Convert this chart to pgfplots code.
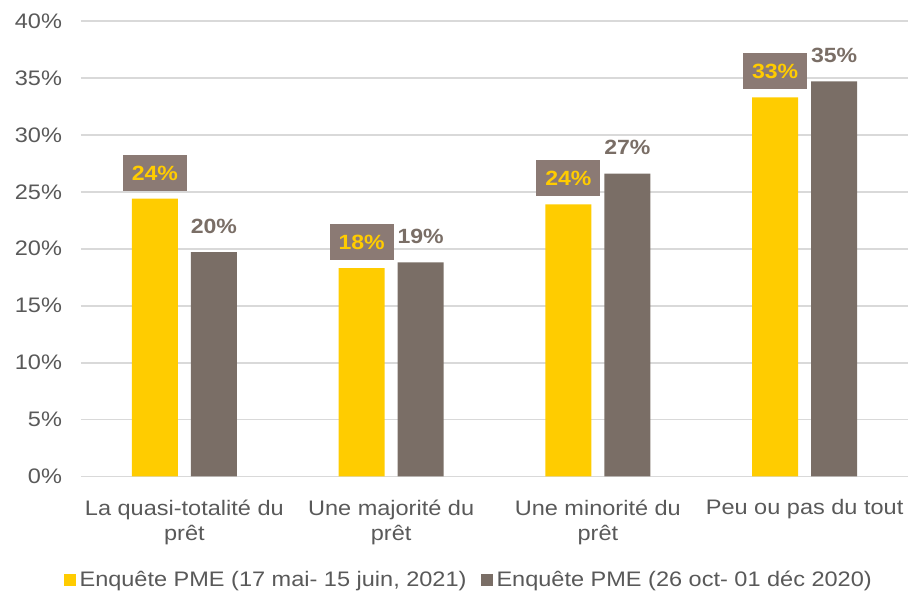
\documentclass[border=0pt]{standalone}
\usepackage{fontspec}
\setmainfont{Liberation Sans}[FakeStretch=1.12]
\usepackage{pgfplots}
\pgfplotsset{compat=1.18}
\usetikzlibrary{calc}
\definecolor{cyel}{HTML}{FFCC00}
\definecolor{cgray}{HTML}{7A6E66}
\definecolor{cbox}{HTML}{8B7A74}
\definecolor{ctxt}{HTML}{595959}
\definecolor{cgrid}{HTML}{D9D9D9}
\begin{document}
\begin{tikzpicture}
\begin{axis}[
  scale only axis,
  width=413.5pt, height=227.75pt,
  /pgf/number format/assume math mode=true,
  font=\fontsize{10.5}{12.5}\selectfont,
  ybar=6.5pt, bar width=23pt,
  xmin=-0.5, xmax=3.5,
  ymin=0, ymax=40,
  xtick={0,1,2,3},
  xticklabels={{La quasi-totalité du\\prêt},{Une majorité du\\prêt},{Une minorité du\\prêt},{Peu ou pas du tout}},
  xticklabel style={align=center, text=ctxt, yshift=-8pt},
  ytick={0,5,...,40},
  yticklabel={\pgfmathprintnumber{\tick}\%},
  yticklabel style={text=ctxt, xshift=-6pt},
  ymajorgrids, grid style={cgrid, line width=0.9pt},
  axis x line*=bottom, axis y line*=left,
  x axis line style={cgrid, line width=0.9pt},
  y axis line style={draw=none},
  major tick length=0pt,
  tick style={draw=none},
  nodes near coords={\pgfmathprintnumber[fixed,precision=0]{\pgfplotspointmeta}\%},
  nodes near coords align={vertical},
  every node near coord/.append style={font=\fontsize{10.3}{12}\selectfont\bfseries, anchor=south, yshift=3.8pt, inner xsep=4.5pt, inner ysep=5.3pt, text height=7.4pt, text depth=0pt},
  legend columns=2,
  legend style={draw=none, at={(0.47,-0.227)}, anchor=center, font=\fontsize{10.5}{12}\selectfont, text=ctxt,
    /tikz/every even column/.append style={column sep=5pt}},
  legend image code/.code={\fill[#1,draw=none] (0pt,-3pt) rectangle (6pt,3pt);},
  clip=false,
]
\addplot[fill=cyel, draw=none, every node near coord/.append style={fill=cbox, text=cyel}]
  coordinates {(0,24.4) (1,18.3) (2,23.9) (3,33.3)};
\addlegendentry{Enquête PME (17 mai- 15 juin, 2021)}
\addplot[fill=cgray, draw=none, every node near coord/.append style={text=cgray}]
  coordinates {(0,19.7) (1,18.8) (2,26.6) (3,34.7)};
\addlegendentry{Enquête PME (26 oct- 01 déc 2020)}
\end{axis}
\path ($(current axis.south west)+(-40.5pt,-59.75pt)$) rectangle ($(current axis.north east)+(1pt,10.5pt)$);
\end{tikzpicture}
\end{document}
